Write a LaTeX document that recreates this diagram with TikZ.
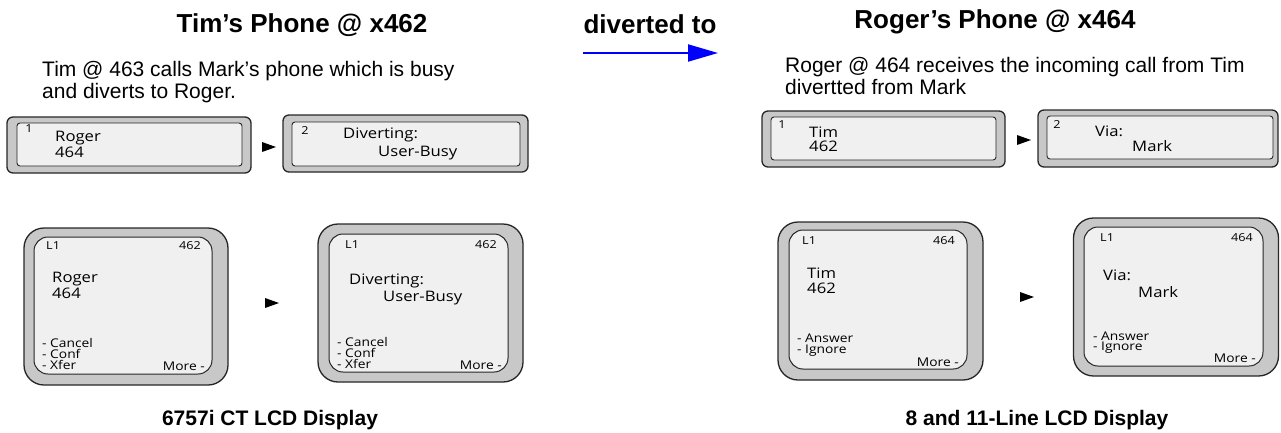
\documentclass[tikz,border=0pt]{standalone}
\usepackage{fontspec}
\setmainfont{Liberation Sans}
\newfontfamily\lcdfont[FakeStretch=1.15]{Open Sans}
\usetikzlibrary{arrows.meta,positioning}
\definecolor{lcdframe}{RGB}{200,200,200}
\definecolor{lcdscreen}{RGB}{240,240,240}
\definecolor{divblue}{RGB}{0,0,255}

\tikzset{
  titletxt/.style={inner sep=0pt,anchor=base,font=\bfseries\fontsize{26}{30}\selectfont},
  captxt/.style={inner sep=0pt,anchor=base,font=\bfseries\fontsize{21}{24}\selectfont},
  bodytxt/.style={inner sep=0pt,anchor=base west,font=\fontsize{21}{24}\selectfont},
  bigframe/.style={draw=black!85,line width=1.3pt,fill=lcdframe,rounded corners=20pt,inner sep=0pt},
  bigscreen/.style={draw=black!85,line width=1pt,fill=lcdscreen,rounded corners=14pt,inner sep=0pt},
  barframe/.style={draw=black!85,line width=1.3pt,fill=lcdframe,rounded corners=6pt,inner sep=0pt},
  barscreen/.style={draw=black!85,line width=0.9pt,fill=lcdscreen,rounded corners=3pt,inner sep=0pt},
  lcdtxt/.style={inner sep=0pt,anchor=west,font=\lcdfont\fontsize{14.5}{16}\selectfont},
  lcdsmall/.style={inner sep=0pt,font=\lcdfont\fontsize{11}{12}\selectfont},
  softkey/.style={inner sep=0pt,font=\lcdfont\fontsize{12}{13}\selectfont},
}

\begin{document}
\begin{tikzpicture}[x=1pt,y=-1pt]
    \useasboundingbox (0,0) rectangle (1281,432);

    % headings
    \node[titletxt] (tTim) at (302,32) {Tim’s Phone @ x462};
    \node[titletxt] (tDiv) at (650,33) {diverted to};
    \node[titletxt] (tRog) at (995,28) {Roger’s Phone @ x464};
    \coordinate (divA) at (583,53);
    \coordinate (divB) at (718,53);
    \draw[divblue,line width=2pt,-{Triangle[length=30pt,width=17pt]}] (divA) -- (divB);

    \node[bodytxt] (dTimA) at (42,76) {Tim @ 463 calls Mark’s phone which is busy};
    \node[bodytxt] (dTimB) at (42,98) {and diverts to Roger.};
    \node[bodytxt] (dRogA) at (785,72) {Roger @ 464 receives the incoming call from Tim};
    \node[bodytxt] (dRogB) at (785,94) {divertted from Mark};

    % small two-line displays
    \node[barframe,minimum width=244,minimum height=56] (barTa) at (129,145) {};
    \node[barscreen,minimum width=225,minimum height=43] (barTaS) at (129.5,144.5) {};
    \node[lcdsmall] (barTaN) at (29,129) {1};
    \node[lcdtxt] (barTaA) at (55,138) {Roger};
    \node[lcdtxt] (barTaB) at (55,152) {464};

    \node[barframe,minimum width=245,minimum height=57] (barTb) at (405.5,143.5) {};
    \node[barscreen,minimum width=228,minimum height=44] (barTbS) at (406,144) {};
    \node[lcdsmall] (barTbN) at (305,131) {2};
    \node[lcdtxt] (barTbA) at (343,135) {Diverting:};
    \node[lcdtxt] (barTbB) at (378,153) {User-Busy};

    \node[barframe,minimum width=243,minimum height=56] (barRa) at (883.5,139) {};
    \node[barscreen,minimum width=225,minimum height=43] (barRaS) at (883.5,138.5) {};
    \node[lcdsmall] (barRaN) at (782,125) {1};
    \node[lcdtxt] (barRaA) at (809,132) {Tim};
    \node[lcdtxt] (barRaB) at (809,146) {462};

    \node[barframe,minimum width=240,minimum height=57] (barRb) at (1158,138.5) {};
    \node[barscreen,minimum width=226,minimum height=43] (barRbS) at (1160,137.5) {};
    \node[lcdsmall] (barRbN) at (1057,125) {2};
    \node[lcdtxt] (barRbA) at (1095,131) {Via:};
    \node[lcdtxt] (barRbB) at (1132,146) {Mark};

    % big displays, 6757i CT
    \node[bigframe,minimum width=204,minimum height=157] (lcdTa) at (126,306.5) {};
    \node[bigscreen,minimum width=178,minimum height=137] (lcdTaS) at (123,305.5) {};
    \node[lcdsmall,anchor=west] (lcdTaL) at (46,246) {L1};
    \node[lcdsmall,anchor=east] (lcdTaX) at (201,246) {462};
    \node[lcdtxt] (lcdTaA) at (52,279) {Roger};
    \node[lcdtxt] (lcdTaB) at (52,293) {464};
    \foreach \t [count=\k] in {Cancel,Conf,Xfer}
        \node[softkey,anchor=west] (lcdTaK\k) at (42,332+11*\k) {- \t};
    \node[softkey,anchor=east] (lcdTaM) at (205,366) {More -};

    \node[bigframe,minimum width=205,minimum height=158] (lcdTb) at (420.5,303) {};
    \node[bigscreen,minimum width=179,minimum height=138] (lcdTbS) at (418.5,303) {};
    \node[lcdsmall,anchor=west] (lcdTbL) at (345,245) {L1};
    \node[lcdsmall,anchor=east] (lcdTbX) at (497,245) {462};
    \node[lcdtxt] (lcdTbA) at (349,281) {Diverting:};
    \node[lcdtxt] (lcdTbB) at (383,298) {User-Busy};
    \foreach \t [count=\k] in {Cancel,Conf,Xfer}
        \node[softkey,anchor=west] (lcdTbK\k) at (337,331+11*\k) {- \t};
    \node[softkey,anchor=east] (lcdTbM) at (502,365) {More -};

    % big displays, 8 and 11-line
    \node[bigframe,minimum width=205,minimum height=158] (lcdRa) at (880.5,301) {};
    \node[bigscreen,minimum width=178,minimum height=139] (lcdRaS) at (878,299.5) {};
    \node[lcdsmall,anchor=west] (lcdRaL) at (802,241) {L1};
    \node[lcdsmall,anchor=east] (lcdRaX) at (955,241) {464};
    \node[lcdtxt] (lcdRaA) at (807,273) {Tim};
    \node[lcdtxt] (lcdRaB) at (807,288) {462};
    \node[softkey,anchor=west] (lcdRaK1) at (797,338) {- Answer};
    \node[softkey,anchor=west] (lcdRaK2) at (797,351) {- Ignore};
    \node[softkey,anchor=east] (lcdRaM) at (959,362) {More -};

    \node[bigframe,minimum width=205,minimum height=158] (lcdRb) at (1176,297) {};
    \node[bigscreen,minimum width=179,minimum height=139] (lcdRbS) at (1173.5,296.5) {};
    \node[lcdsmall,anchor=west] (lcdRbL) at (1100,238) {L1};
    \node[lcdsmall,anchor=east] (lcdRbX) at (1253,238) {464};
    \node[lcdtxt] (lcdRbA) at (1103,275) {Via:};
    \node[lcdtxt] (lcdRbB) at (1138,292) {Mark};
    \node[softkey,anchor=west] (lcdRbK1) at (1093,336) {- Answer};
    \node[softkey,anchor=west] (lcdRbK2) at (1093,348) {- Ignore};
    \node[softkey,anchor=east] (lcdRbM) at (1256,358) {More -};

    % small pointers between the screens
    \foreach \x/\y in {262/147,1017/140,265/303,1020/297}
        \fill (\x,\y-5) -- (\x+14,\y) -- (\x,\y+5) -- cycle;

    \node[captxt] (capT) at (270,425) {6757i CT LCD Display};
    \node[captxt] (capR) at (1037,425) {8 and 11-Line LCD Display};
\end{tikzpicture}
\end{document}
